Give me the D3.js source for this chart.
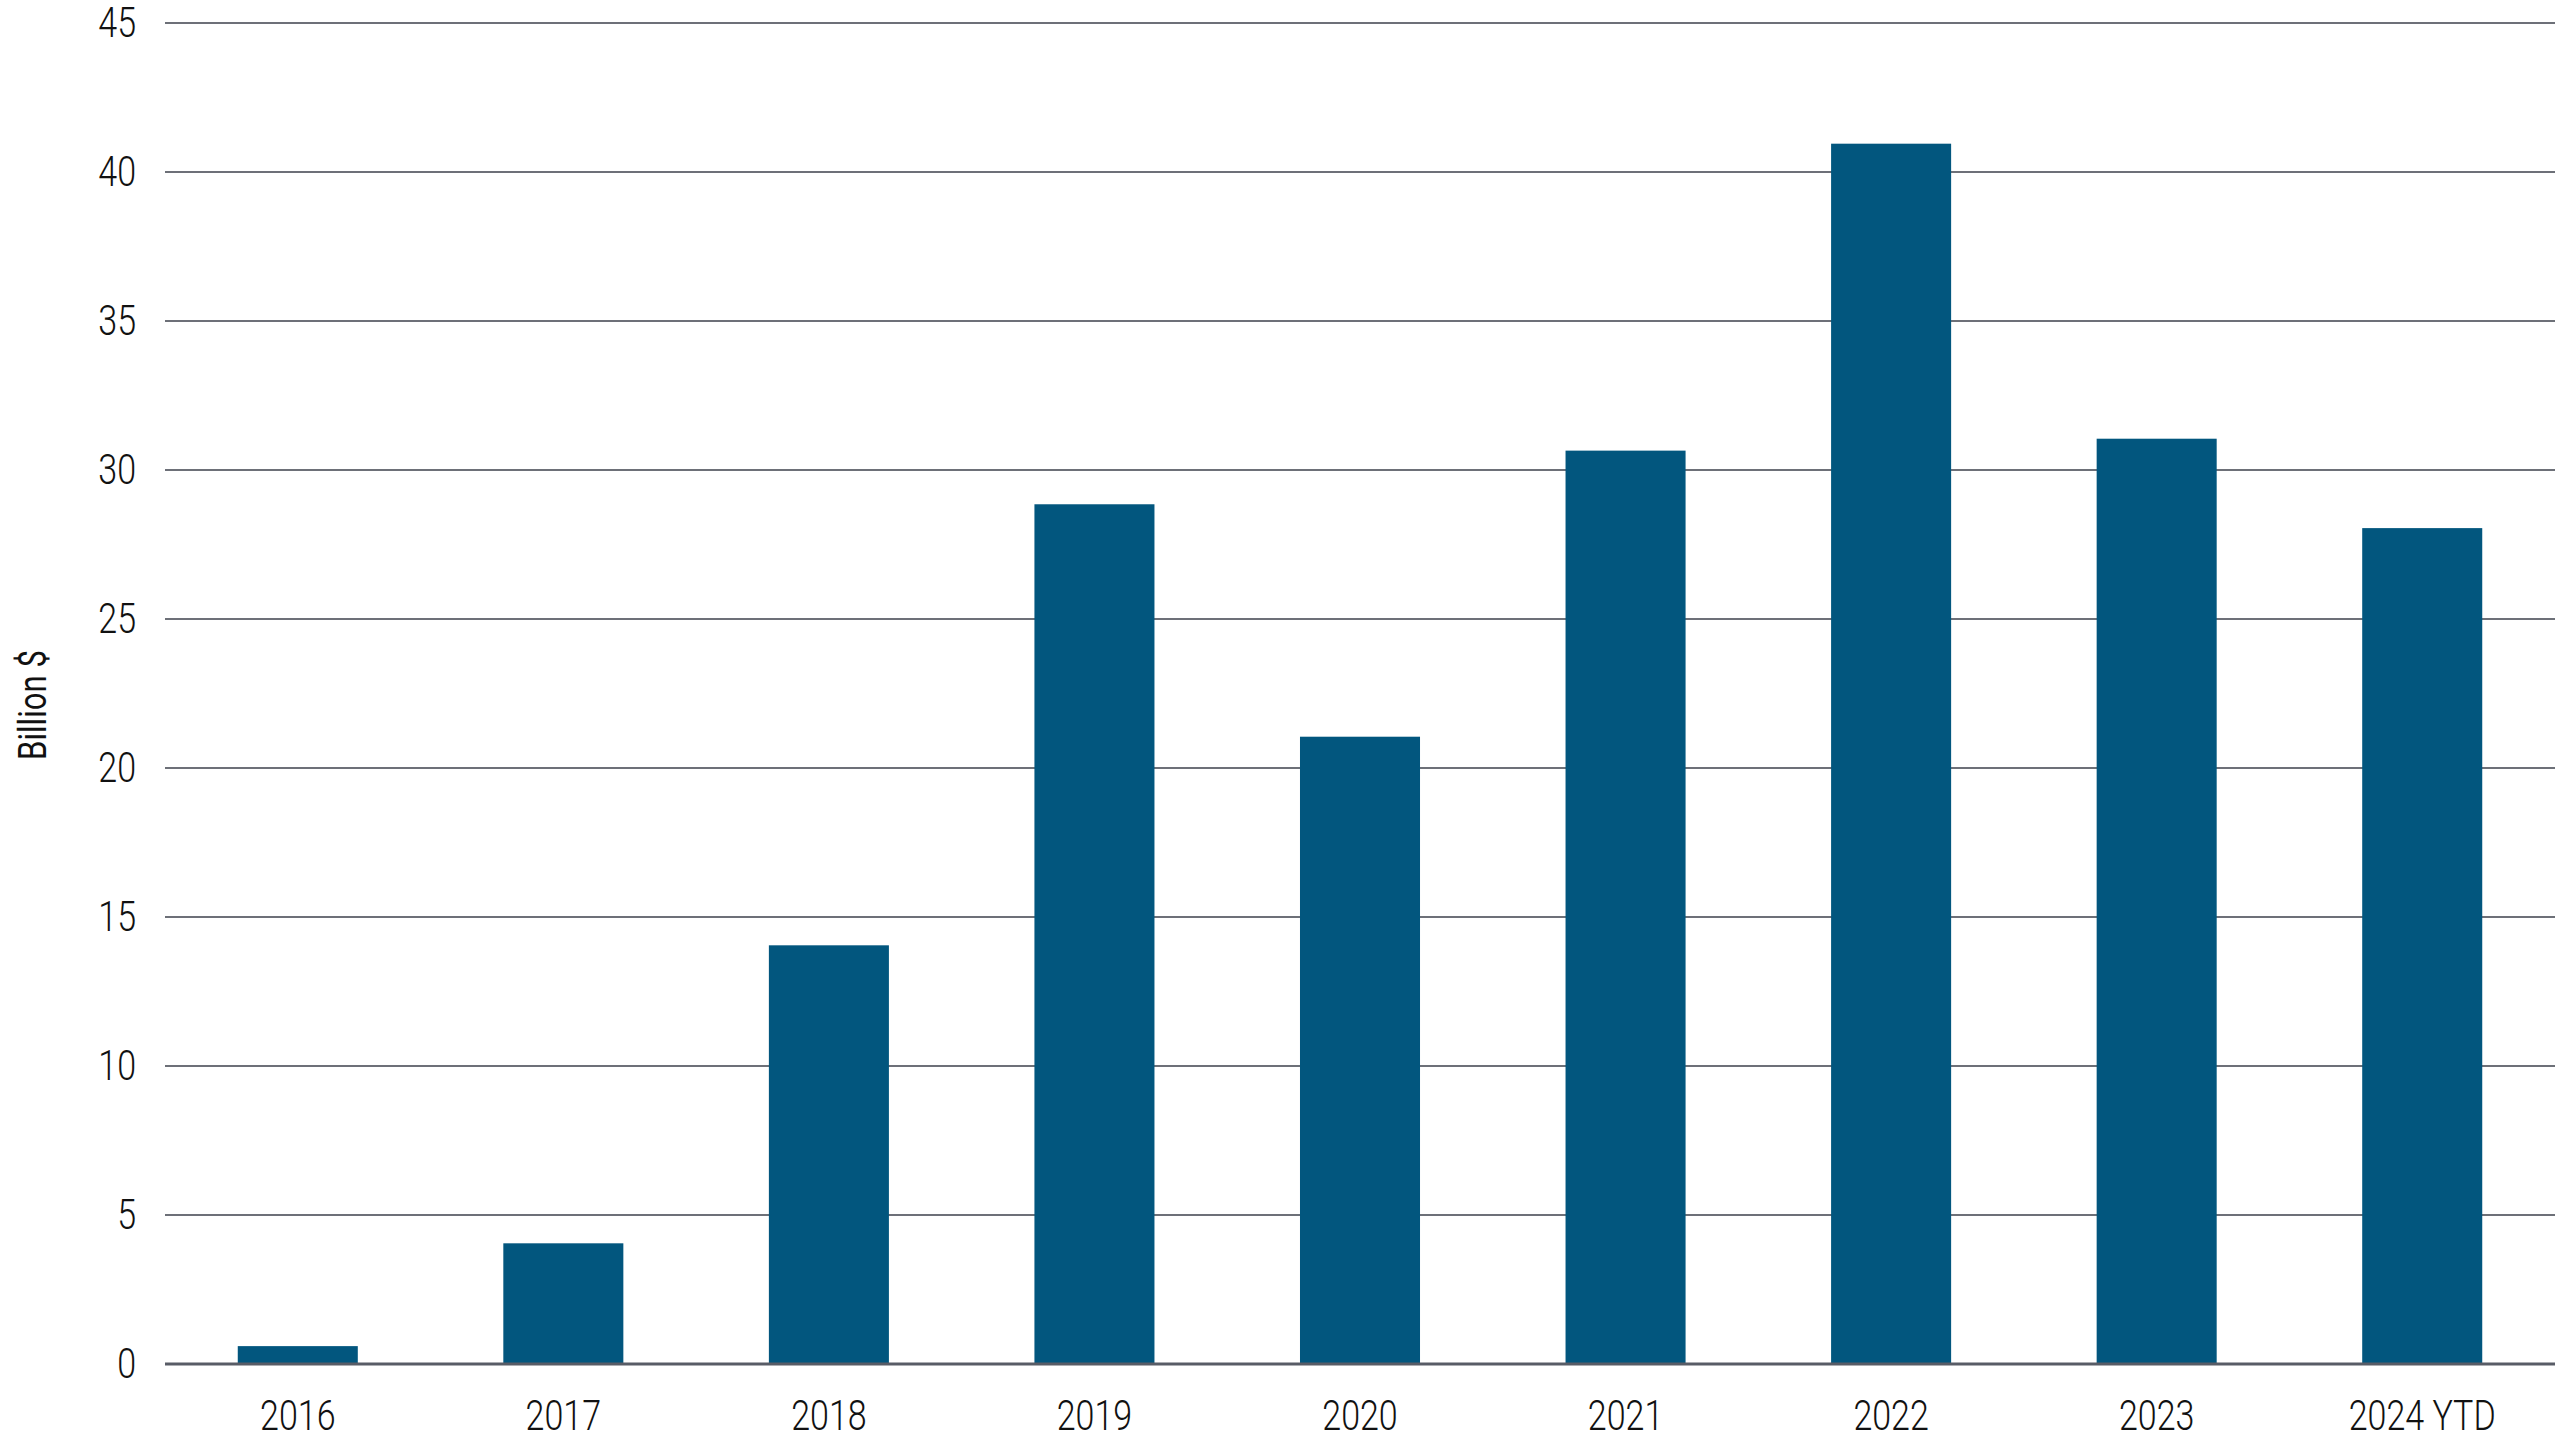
<!DOCTYPE html>
<html>
<head>
<meta charset="utf-8">
<script src="https://cdn.jsdelivr.net/npm/d3@7"></script>
<style>
  html, body { margin: 0; padding: 0; background: #ffffff; }
  svg { display: block; }
</style>
</head>
<body>
<svg id="chart" width="2560" height="1440"></svg>
<script>
const categories = ["2016", "2017", "2018", "2019", "2020", "2021", "2022", "2023", "2024 YTD"];
const values = [0.6, 4.05, 14.05, 28.85, 21.05, 30.65, 40.95, 31.05, 28.05];
const yTicks = [0, 5, 10, 15, 20, 25, 30, 35, 40, 45];
const yLabel = "Billion $";

const W = 2560, H = 1440;
const margin = { left: 165, right: 5, top: 23, bottom: 76 };
const tickFont = "Roboto, 'Liberation Sans', sans-serif";
const condense = 0.81;

const svg = d3.select("#chart");

const x = d3.scaleBand()
  .domain(categories)
  .range([margin.left, W - margin.right])
  .paddingInner(0.548)
  .paddingOuter(0.274);

const y = d3.scaleLinear()
  .domain([0, 45])
  .range([H - margin.bottom, margin.top]);

// gridlines
svg.append("g")
  .selectAll("line")
  .data(yTicks.filter(d => d > 0))
  .join("line")
  .attr("x1", margin.left)
  .attr("x2", W - margin.right)
  .attr("y1", d => y(d))
  .attr("y2", d => y(d))
  .attr("stroke", "#6d7078")
  .attr("stroke-width", 2);

// bars
svg.append("g")
  .selectAll("rect")
  .data(categories.map((c, i) => ({ c, v: values[i] })))
  .join("rect")
  .attr("x", d => x(d.c))
  .attr("width", x.bandwidth())
  .attr("y", d => y(d.v))
  .attr("height", d => y(0) - y(d.v))
  .attr("fill", "#02567e");

// baseline
svg.append("line")
  .attr("x1", margin.left)
  .attr("x2", W - margin.right)
  .attr("y1", y(0))
  .attr("y2", y(0))
  .attr("stroke", "#585c66")
  .attr("stroke-width", 3);

// y axis labels
const yAxis = d3.axisLeft(y).tickValues(yTicks).tickSize(0).tickPadding(29).tickFormat(d3.format("d"));
const yg = svg.append("g").attr("transform", `translate(${margin.left},0)`).call(yAxis);
yg.select(".domain").remove();
yg.selectAll("text")
  .attr("x", 0)
  .attr("transform", `translate(-29,0) scale(${condense},1)`)
  .attr("font-family", tickFont)
  .attr("font-weight", 300)
  .attr("font-size", 42)
  .attr("fill", "#111");

// x axis labels
const xAxis = d3.axisBottom(x).tickSize(0).tickPadding(36);
const xg = svg.append("g").attr("transform", `translate(0,${y(0)})`).call(xAxis);
xg.select(".domain").remove();
xg.selectAll("text")
  .attr("transform", `scale(${condense},1)`)
  .attr("font-family", tickFont)
  .attr("font-weight", 300)
  .attr("font-size", 42)
  .attr("fill", "#111");

// y axis title
svg.append("text")
  .attr("transform", `translate(33,705) rotate(-90) scale(0.82,1)`)
  .attr("text-anchor", "middle")
  .attr("dominant-baseline", "central")
  .attr("font-family", tickFont)
  .attr("font-weight", 400)
  .attr("font-size", 38)
  .attr("fill", "#111")
  .text(yLabel);
</script>
</body>
</html>
